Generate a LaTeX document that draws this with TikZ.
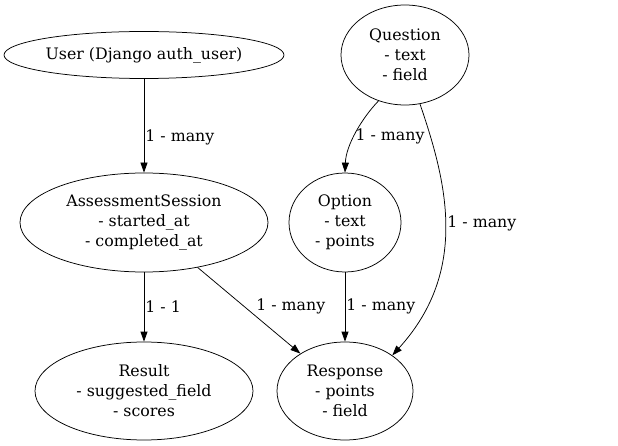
\documentclass[tikz,border=0pt]{standalone}
\usepackage{fontspec}
\setmainfont{DejaVu Serif}
\usepackage{tikz}
\usetikzlibrary{arrows.meta, shapes.geometric}

\begin{document}
\begin{tikzpicture}[
    x=1pt, y=1pt,
    arr/.style={-{Triangle[length=10pt, width=7pt]}, line width=0.75pt},
    entity/.style={ellipse, draw, line width=0.75pt, inner sep=0pt, align=center,
                   font=\fontsize{15.8pt}{20pt}\selectfont},
    lbl/.style={inner sep=1pt, anchor=west, font=\fontsize{15.8pt}{18pt}\selectfont},
]
\useasboundingbox (0,0) rectangle (618,-446);

\node[entity, minimum width=280pt, minimum height=47pt] (user) at (144,-55) {User (Django auth\_user)};
\node[entity, minimum width=128pt, minimum height=100pt] (quest) at (405,-55) {Question\\- text\\- field};
\node[entity, minimum width=248pt, minimum height=99pt] (sess) at (144,-222.5) {AssessmentSession\\- started\_at\\- completed\_at};
\node[entity, minimum width=112pt, minimum height=99pt] (opt) at (345,-222.5) {Option\\- text\\- points};
\node[entity, minimum width=218pt, minimum height=98pt] (res) at (144,-391) {Result\\- suggested\_field\\- scores};
\node[entity, minimum width=136pt, minimum height=98pt] (resp) at (345,-391) {Response\\- points\\- field};

\draw[arr] (user) -- node[lbl, pos=0.62] (l1) {1 - many} (sess);
\draw[arr] (quest.-120) .. controls (362,-118) and (346,-145) .. node[lbl, pos=0.55] (l2) {1 - many} (opt.north);
\draw[arr] (quest.-73) .. controls (446,-180) and (470,-270) .. node[lbl, pos=0.49, xshift=1pt] (l3) {1 - many} (resp.37);
\draw[arr] (sess) -- node[lbl, pos=0.49] (l4) {1 - 1} (res);
\draw[arr] (sess) -- node[lbl, pos=0.45, xshift=11pt] (l5) {1 - many} (resp);
\draw[arr] (opt) -- node[lbl, pos=0.49] (l6) {1 - many} (resp);
\end{tikzpicture}
\end{document}
